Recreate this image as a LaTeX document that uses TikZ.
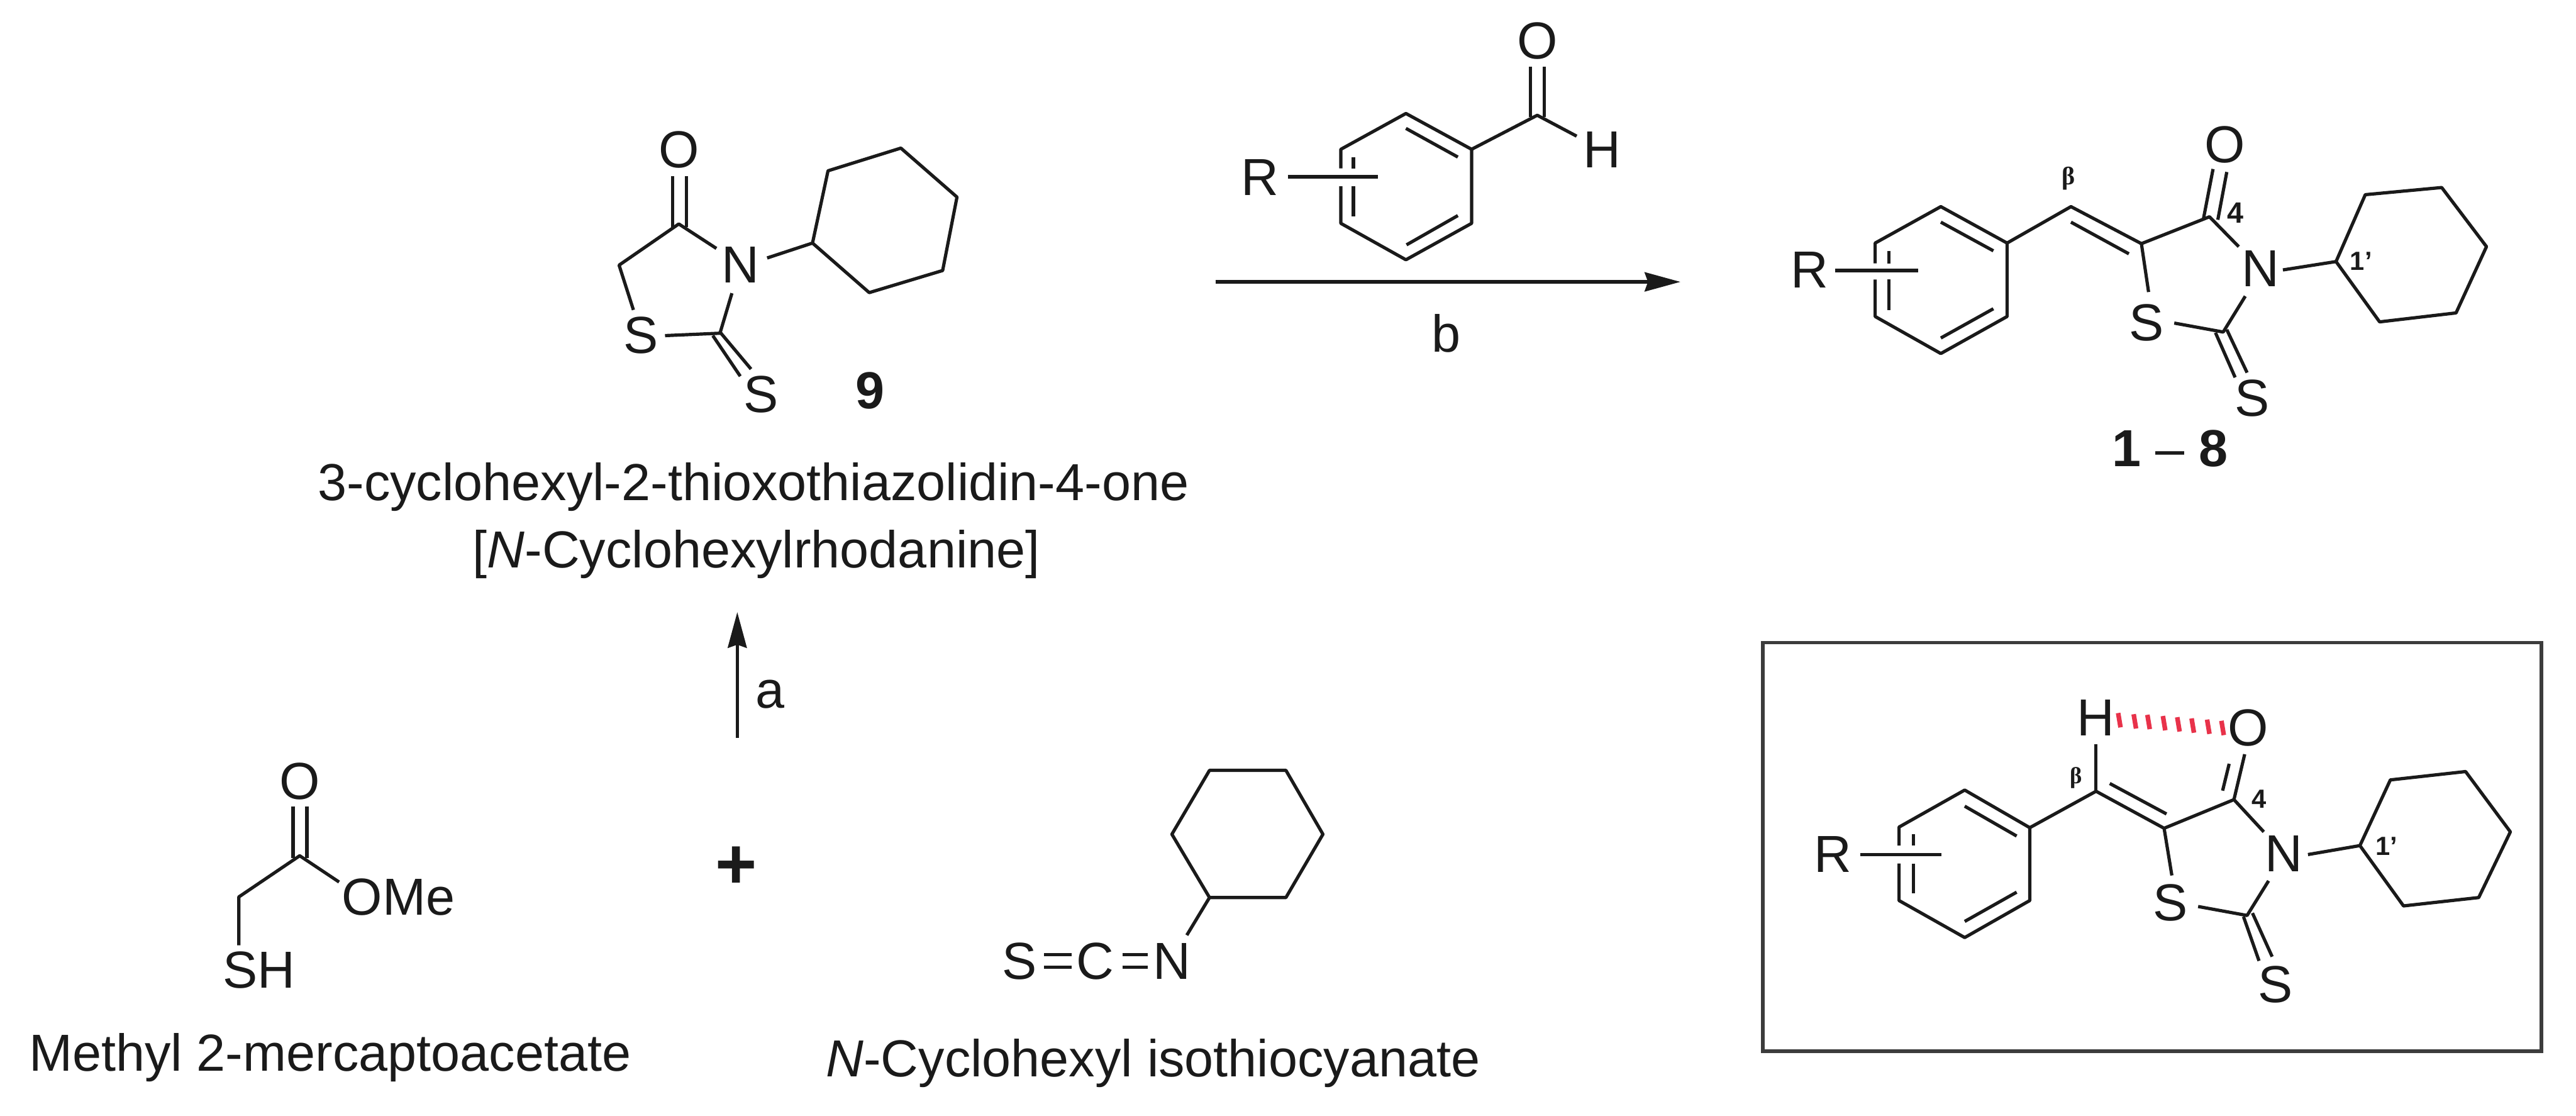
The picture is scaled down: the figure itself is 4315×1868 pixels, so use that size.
\documentclass[tikz,border=0pt]{standalone}
\usepackage{fontspec}
\setmainfont{Liberation Sans}
\newfontfamily\serifbeta{Liberation Serif}
\usetikzlibrary{arrows.meta}
\newcommand{\Pt}[3]{\coordinate (#1) at (#2,#3);}
\newcommand{\Ring}[6]{\draw[bond] (#1) -- (#2) -- (#3) -- (#4) -- (#5) -- (#6) -- cycle;}
\definecolor{ink}{HTML}{1A1A1A}
\definecolor{hbond}{HTML}{E8324A}
\tikzset{
  x=0.01cm,y=-0.01cm,
  bond/.style={draw=ink,line width=1.55pt,line join=round,line cap=butt},
  atom/.style={inner sep=0pt,text=ink,font=\fontsize{24.8}{28}\selectfont},
  caption/.style={inner sep=0pt,anchor=base,text=ink,font=\fontsize{24.8}{28}\selectfont},
  numb/.style={inner sep=0pt,text=ink,font=\fontsize{14}{16}\selectfont\bfseries},
  numbs/.style={inner sep=0pt,text=ink,font=\fontsize{12.5}{14}\selectfont\bfseries},
  betal/.style={inner sep=0pt,text=ink,font=\fontsize{12}{14}\selectfont\serifbeta\bfseries},
  rxn/.style={draw=ink,line width=1.9pt,-{Stealth[length=17pt,width=9pt,inset=1.5pt]}},
  frame/.style={draw=ink!85!white,line width=1.7pt}
}
\begin{document}
\begin{tikzpicture}
\useasboundingbox (0,0) rectangle (4315,1868);
\fill[white] (0,0) rectangle (4315,1868);

% ---------- compound 9
\node[atom] (aO) at (1137,251) {O};
\node[atom] (aN) at (1240,444) {N};
\node[atom] (aS) at (1074,562) {S};
\node[atom] (aT) at (1275,661) {S};
\node[atom,font=\fontsize{24.8}{28}\selectfont\bfseries] (a9) at (1457,654) {9};
\Pt{aC4}{1137}{375}\Pt{aC5}{1037}{444}\Pt{aC2}{1206}{558}
\Pt{aO1}{1127}{295}\Pt{aO1b}{1127}{380}\Pt{aO2}{1150}{295}\Pt{aO2b}{1150}{380}
\Pt{aNa}{1200}{416}\Pt{aNb}{1226}{491}\Pt{aNc}{1285}{432}
\Pt{aSa}{1061}{519}\Pt{aSb}{1114}{562}
\Pt{aT1a}{1194}{562}\Pt{aT1b}{1240}{630}\Pt{aT2a}{1206}{556}\Pt{aT2b}{1258}{618}
\Pt{ac1}{1361}{407}\Pt{ac2}{1387}{286}\Pt{ac3}{1509}{248}\Pt{ac4}{1603}{330}\Pt{ac5}{1579}{453}\Pt{ac6}{1456}{490}
\draw[bond] (aO1) -- (aO1b); \draw[bond] (aO2) -- (aO2b);
\draw[bond] (aNa) -- (aC4) -- (aC5) -- (aSa);
\draw[bond] (aNb) -- (aC2) -- (aSb);
\draw[bond] (aT1a) -- (aT1b); \draw[bond] (aT2a) -- (aT2b);
\draw[bond] (aNc) -- (ac1);
\Ring{ac1}{ac2}{ac3}{ac4}{ac5}{ac6}

% ---------- captions of 9
\node[caption] (cap1) at (1262,838) {3-cyclohexyl-2-thioxothiazolidin-4-one};
\node[caption] (cap2) at (1267,951) {[\textit{N}-Cyclohexylrhodanine]};

% ---------- benzaldehyde
\node[atom] (bR) at (2111,297) {R};
\node[atom] (bO) at (2575,68) {O};
\node[atom] (bH) at (2684,251) {H};
\Pt{b1}{2355}{190}\Pt{b2}{2465}{250}\Pt{b3}{2465}{374}\Pt{b4}{2355}{435}\Pt{b5}{2246}{374}\Pt{b6}{2246}{250}
\Pt{bg1}{2246}{282}\Pt{bg2}{2246}{312}
\Pt{bi1}{2355}{215}\Pt{bi2}{2442}{263}\Pt{bi3}{2442}{361}\Pt{bi4}{2356}{410}
\Pt{bi5}{2267}{263}\Pt{bi6}{2267}{282}\Pt{bi7}{2267}{312}\Pt{bi8}{2267}{362}
\Pt{bRa}{2157}{296}\Pt{bRb}{2308}{296}
\Pt{bC}{2575}{193}\Pt{bHa}{2641}{228}
\Pt{bO1}{2564}{112}\Pt{bO1b}{2564}{196}\Pt{bO2}{2587}{112}\Pt{bO2b}{2587}{196}
\draw[bond] (bg1) -- (b6) -- (b1) -- (b2) -- (b3) -- (b4) -- (b5) -- (bg2);
\draw[bond] (bi1) -- (bi2); \draw[bond] (bi3) -- (bi4);
\draw[bond] (bi5) -- (bi6); \draw[bond] (bi7) -- (bi8);
\draw[bond] (bRa) -- (bRb);
\draw[bond] (b2) -- (bC) -- (bHa);
\draw[bond] (bO1) -- (bO1b); \draw[bond] (bO2) -- (bO2b);

% ---------- reaction arrow b
\Pt{arrBs}{2036}{472}\Pt{arrBe}{2815}{472}
\draw[rxn] (arrBs) -- (arrBe);
\node[atom] (lb) at (2422,558) {b};

% ---------- product 1-8
\node[atom] (pR) at (3031,452) {R};
\node[betal] (pBeta) at (3465,299) {β};
\node[atom] (pS) at (3596,540) {S};
\node[atom] (pO) at (3727,242) {O};
\node[atom] (pN) at (3786,450) {N};
\node[atom] (pT) at (3773,667) {S};
\node[numb] (p4) at (3745,356) {4};
\node[numbs] (p1p) at (3955,437) {1'};
\node[atom] (p18) at (3635,751) {\textbf{1} – \textbf{8}};
\Pt{p1}{3251}{346}\Pt{p2}{3362}{407}\Pt{p3}{3362}{530}\Pt{p4v}{3251}{592}\Pt{p5}{3141}{530}\Pt{p6}{3141}{407}
\Pt{pg1}{3141}{441}\Pt{pg2}{3141}{468}
\Pt{pi1}{3251}{372}\Pt{pi2}{3339}{420}\Pt{pi3}{3339}{517}\Pt{pi4}{3251}{566}
\Pt{pi5}{3164}{420}\Pt{pi6}{3164}{441}\Pt{pi7}{3164}{468}\Pt{pi8}{3164}{519}
\Pt{pRa}{3074}{453}\Pt{pRb}{3213}{453}
\Pt{pCb}{3469}{346}\Pt{pC5}{3587}{408}\Pt{pdi1}{3469}{372}\Pt{pdi2}{3566}{425}
\Pt{pSa}{3599}{489}\Pt{pSb}{3642}{541}
\Pt{pC4}{3701}{363}\Pt{pNa}{3750}{413}\Pt{pNb}{3761}{496}\Pt{pC2}{3724}{556}
\Pt{pO1}{3707}{283}\Pt{pO1b}{3691}{366}\Pt{pO2}{3730}{288}\Pt{pO2b}{3715}{368}
\Pt{pT1a}{3711}{557}\Pt{pT1b}{3744}{632}\Pt{pT2a}{3730}{552}\Pt{pT2b}{3764}{624}
\Pt{pNc}{3824}{452}
\Pt{pc1}{3913}{438}\Pt{pc2}{3962}{326}\Pt{pc3}{4090}{314}\Pt{pc4}{4165}{413}\Pt{pc5}{4114}{524}\Pt{pc6}{3986}{539}
\draw[bond] (pg1) -- (p6) -- (p1) -- (p2) -- (p3) -- (p4v) -- (p5) -- (pg2);
\draw[bond] (pi1) -- (pi2); \draw[bond] (pi3) -- (pi4);
\draw[bond] (pi5) -- (pi6); \draw[bond] (pi7) -- (pi8);
\draw[bond] (pRa) -- (pRb);
\draw[bond] (p2) -- (pCb) -- (pC5) -- (pSa);
\draw[bond] (pdi1) -- (pdi2);
\draw[bond] (pC5) -- (pC4) -- (pNa);
\draw[bond] (pNb) -- (pC2) -- (pSb);
\draw[bond] (pO1) -- (pO1b); \draw[bond] (pO2) -- (pO2b);
\draw[bond] (pT1a) -- (pT1b); \draw[bond] (pT2a) -- (pT2b);
\draw[bond] (pNc) -- (pc1);
\Ring{pc1}{pc2}{pc3}{pc4}{pc5}{pc6}

% ---------- framed conformer
\Pt{fa}{2953}{1076}\Pt{fb}{4257}{1760}
\draw[frame] (fa) rectangle (fb);
\node[atom] (iR) at (3070,1431) {R};
\node[atom] (iH) at (3510,1202) {H};
\node[atom] (iO) at (3766,1219) {O};
\node[atom] (iN) at (3826,1430) {N};
\node[atom] (iS) at (3636,1512) {S};
\node[atom] (iT) at (3812,1649) {S};
\node[betal,font=\fontsize{11}{13}\selectfont\serifbeta\bfseries] (iBeta) at (3478,1303) {β};
\node[numbs] (i4) at (3784,1338) {4};
\node[numbs] (i1p) at (3998,1417) {1'};
\Pt{i1}{3291}{1323}\Pt{i2}{3400}{1386}\Pt{i3}{3400}{1508}\Pt{i4v}{3291}{1570}\Pt{i5}{3181}{1508}\Pt{i6}{3181}{1385}
\Pt{ig1}{3181}{1416}\Pt{ig2}{3181}{1446}
\Pt{ii1}{3291}{1350}\Pt{ii2}{3378}{1400}\Pt{ii3}{3378}{1494}\Pt{ii4}{3291}{1543}
\Pt{ii5}{3205}{1397}\Pt{ii6}{3205}{1416}\Pt{ii7}{3205}{1446}\Pt{ii8}{3205}{1496}
\Pt{iRa}{3116}{1431}\Pt{iRb}{3252}{1431}
\Pt{iCb}{3511}{1325}\Pt{iHa}{3511}{1246}\Pt{iC5}{3625}{1387}
\Pt{idi1}{3534}{1312}\Pt{idi2}{3629}{1363}
\Pt{iC4}{3742}{1339}\Pt{iSa}{3638}{1466}\Pt{iSb}{3682}{1518}
\Pt{iOa}{3760}{1263}\Pt{iOi1}{3723}{1324}\Pt{iOi2}{3734}{1279}
\Pt{iNa}{3792}{1393}\Pt{iNb}{3800}{1475}\Pt{iC2}{3764}{1533}
\Pt{iT1a}{3758}{1535}\Pt{iT1b}{3784}{1609}\Pt{iT2a}{3773}{1529}\Pt{iT2b}{3806}{1602}
\Pt{iNc}{3866}{1431}
\Pt{ic1}{3953}{1416}\Pt{ic2}{4004}{1306}\Pt{ic3}{4130}{1292}\Pt{ic4}{4205}{1393}\Pt{ic5}{4152}{1503}\Pt{ic6}{4026}{1517}
\draw[bond] (ig1) -- (i6) -- (i1) -- (i2) -- (i3) -- (i4v) -- (i5) -- (ig2);
\draw[bond] (ii1) -- (ii2); \draw[bond] (ii3) -- (ii4);
\draw[bond] (ii5) -- (ii6); \draw[bond] (ii7) -- (ii8);
\draw[bond] (iRa) -- (iRb);
\draw[bond] (i2) -- (iCb) -- (iC5) -- (iSa);
\draw[bond] (iCb) -- (iHa);
\draw[bond] (idi1) -- (idi2);
\draw[bond] (iC5) -- (iC4) -- (iNa);
\draw[bond] (iC4) -- (iOa);
\draw[bond] (iOi1) -- (iOi2);
\draw[bond] (iNb) -- (iC2) -- (iSb);
\draw[bond] (iT1a) -- (iT1b); \draw[bond] (iT2a) -- (iT2b);
\draw[bond] (iNc) -- (ic1);
\Ring{ic1}{ic2}{ic3}{ic4}{ic5}{ic6}
\foreach \hx/\hy in {3550/1206,3576/1208,3599/1209,3625/1211,3649/1213,3673/1215,3699/1217,3723/1219}
  \draw[draw=hbond,line width=2.2pt] (\hx-2,\hy-12) -- (\hx+2,\hy+12);

% ---------- methyl 2-mercaptoacetate
\node[atom] (mO) at (502,1308) {O};
\node[atom,anchor=west] (mOMe) at (572,1502) {OMe};
\node[atom,anchor=west] (mSH) at (373,1624) {SH};
\Pt{mC}{502}{1433}\Pt{mCH}{400}{1502}\Pt{mSa}{400}{1583}\Pt{mOa}{568}{1477}
\Pt{mO1}{491}{1350}\Pt{mO1b}{491}{1437}\Pt{mO2}{514}{1350}\Pt{mO2b}{514}{1437}
\draw[bond] (mSa) -- (mCH) -- (mC) -- (mOa);
\draw[bond] (mO1) -- (mO1b); \draw[bond] (mO2) -- (mO2b);
\node[caption,anchor=base west] (mcap) at (48,1794) {Methyl 2-mercaptoacetate};

% ---------- plus and arrow a
\node[inner sep=0pt,text=ink,font=\fontsize{34}{36}\selectfont\bfseries] (plus) at (1233,1453) {+};
\Pt{arrAs}{1235}{1236}\Pt{arrAe}{1235}{1025}
\draw[rxn,line width=1.5pt] (arrAs) -- (arrAe);
\node[atom] (la) at (1290,1163) {a};

% ---------- N-cyclohexyl isothiocyanate
\node[atom] (nS) at (1708,1610) {S};
\node[atom] (nCc) at (1835,1610) {C};
\node[atom] (nN) at (1963,1610) {N};
\Pt{n1}{2026}{1290}\Pt{n2}{2154}{1290}\Pt{n3}{2216}{1397}\Pt{n4}{2154}{1503}\Pt{n5}{2026}{1503}\Pt{n6}{1963}{1397}
\Pt{nNa}{1988}{1566}
\Pt{ns1}{1749}{1599}\Pt{ns2}{1795}{1599}\Pt{ns3}{1749}{1620}\Pt{ns4}{1795}{1620}
\Pt{nc1}{1880}{1599}\Pt{nc2}{1923}{1599}\Pt{nc3}{1880}{1620}\Pt{nc4}{1923}{1620}
\Ring{n1}{n2}{n3}{n4}{n5}{n6}
\draw[bond] (n5) -- (nNa);
\draw[bond] (ns1) -- (ns2); \draw[bond] (ns3) -- (ns4);
\draw[bond] (nc1) -- (nc2); \draw[bond] (nc3) -- (nc4);
\node[caption,anchor=base west] (ncap) at (1383,1803) {\textit{N}-Cyclohexyl isothiocyanate};
\end{tikzpicture}
\end{document}
